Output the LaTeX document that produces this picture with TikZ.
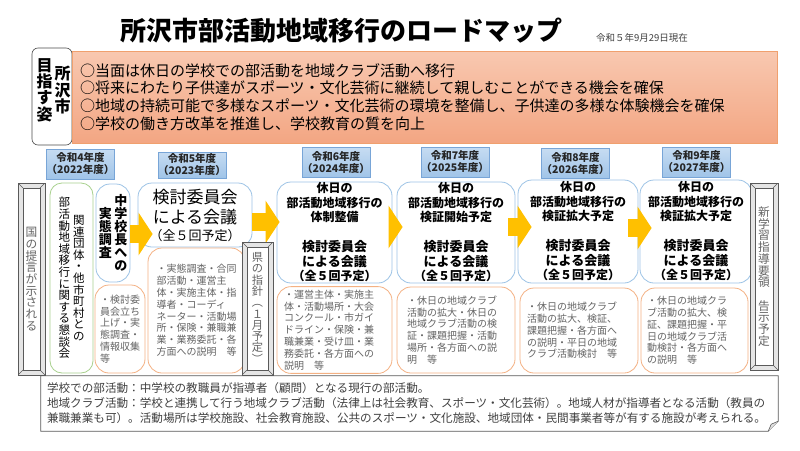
\documentclass[tikz,border=0pt]{standalone}
\usepackage{fontspec}
\setmainfont{Noto Sans CJK JP}
\usetikzlibrary{arrows.meta}

\definecolor{visionTop}{RGB}{248,200,176}
\definecolor{visionBot}{RGB}{243,166,131}
\definecolor{visionLine}{RGB}{240,160,110}
\definecolor{yearTop}{RGB}{198,220,242}
\definecolor{yearBot}{RGB}{160,196,232}
\definecolor{yearLine}{RGB}{120,165,215}
\definecolor{planLine}{RGB}{157,195,230}
\definecolor{taskLine}{RGB}{244,177,131}
\definecolor{meetLine}{RGB}{169,209,142}
\definecolor{goGold}{RGB}{255,192,0}
\definecolor{frameGray}{RGB}{90,90,90}
\definecolor{noteText}{RGB}{64,64,64}
\definecolor{softText}{RGB}{100,100,100}

% vertical (tate) column of characters
\makeatletter
\newcommand\tate[1]{$\vcenter{\lineskiplimit=-100pt\@tfor\tch:=#1\do{\hbox to 1em{\hss\tch\hss}}}$}
\makeatother

\begin{document}
\begin{tikzpicture}[x=1pt,y=-1pt,
    goalbox/.style={draw=black!70, line width=0.6pt, rounded corners=6pt, fill=white},
    vision/.style={draw=visionLine, top color=visionTop, bottom color=visionBot,
      text width=689pt, inner xsep=8pt, align=left, font=\fontsize{15}{17.6}\selectfont},
    year/.style={draw=yearLine, top color=yearTop, bottom color=yearBot, inner sep=0pt,
      text width=68pt, minimum height=30pt, align=center, text=black!85,
      font=\fontsize{10.5}{12}\selectfont\bfseries},
    plan/.style={draw=planLine, line width=0.8pt, rounded corners=14pt, fill=white,
      inner sep=0pt, align=center},
    task/.style={draw=taskLine, line width=0.8pt, rounded corners=14pt, fill=white,
      align=left, text=softText, font=\fontsize{10}{11.8}\selectfont},
    meet/.style={draw=meetLine, line width=0.8pt, rounded corners=12pt, fill=white, inner sep=0pt},
    bevel/.style={draw=frameGray, fill=gray!20, line width=0.7pt, inner sep=0pt, text=softText,
      font=\fontsize{11.7}{11.7}\selectfont,
      path picture={
        \draw[frameGray, fill=white, line width=0.5pt]
          ([shift={(5pt,-5pt)}]path picture bounding box.north west) rectangle
          ([shift={(-5pt,5pt)}]path picture bounding box.south east);
        \draw[frameGray, line width=0.5pt]
          (path picture bounding box.north west) -- ++(5pt,-5pt)
          (path picture bounding box.north east) -- ++(-5pt,-5pt)
          (path picture bounding box.south west) -- ++(5pt,5pt)
          (path picture bounding box.south east) -- ++(-5pt,5pt);
      }},
    goarrow/.style={draw=goGold, line width=18pt, -{Triangle[length=14pt,width=42pt]}},
    note/.style={fill=white, text width=725pt, inner xsep=6pt, minimum height=55pt,
      align=left, text=noteText, font=\fontsize{11.6}{15}\selectfont}
  ]
  \fill[white] (0,0) rectangle (800,450);

  % TITLE
  \node[font=\fontsize{26}{26}\selectfont\bfseries] (title) at (341,31) {所沢市部活動地域移行のロードマップ};
  \node[font=\fontsize{9.5}{10}\selectfont, text=noteText] (date) at (642,37.5) {令和５年9月29日現在};

  % VISION
  \node[goalbox, minimum width=40pt, minimum height=97pt] (goalbox) at (52,96.5) {};
  \node[font=\fontsize{16}{16.4}\selectfont\bfseries] (goal) at (53.5,90) {\tate{目指す姿}\hspace{2pt}\tate{所沢市}};
  \node[vision, minimum height=92pt] (vision) at (424.5,97) {%
    ○当面は休日の学校での部活動を地域クラブ活動へ移行\\
    ○将来にわたり子供達がスポーツ・文化芸術に継続して親しむことができる機会を確保\\
    ○地域の持続可能で多様なスポーツ・文化芸術の環境を整備し、子供達の多様な体験機会を確保\\
    ○学校の働き方改革を推進し、学校教育の質を向上};

  % YEARS
  \node[year] (y22) at (80.5,164) {令和4年度\\（2022年度）};
  \node[year, minimum height=26pt] (y23) at (192,165) {令和5年度\\（2023年度）};
  \node[year] (y24) at (336,162.5) {令和6年度\\（2024年度）};
  \node[year] (y25) at (455,162) {令和7年度\\（2025年度）};
  \node[year] (y26) at (575.5,163.5) {令和8年度\\（2026年度）};
  \node[year] (y27) at (696.5,162) {令和9年度\\（2027年度）};

  % 2022
  \node[meet, minimum width=43pt, minimum height=190pt, font=\fontsize{11.5}{11.6}\selectfont]
    (kon22) at (71.5,278) {\tate{部活動地域移行に関する懇談会}\hspace{3pt}\tate{関連団体・他市町村との}};
  \node[plan, minimum width=34pt, minimum height=98pt, font=\fontsize{13}{13.1}\selectfont\bfseries]
    (chosa22) at (113,233) {\tate{実態調査}\hspace{2.5pt}\tate{中学校長への}};
  \node[task, text width=40pt, inner xsep=5pt, minimum height=88pt] (task22) at (120,329)
    {・検討委\\員会立ち\\上げ・実\\態調査・\\情報収集\\等};

  % 2023
  \node[plan, text width=114pt, minimum height=64pt, font=\fontsize{17}{20}\selectfont] (kaigi23) at (195,215)
    {検討委員会\\による会議\\[-3pt]{\fontsize{13}{20}\selectfont （全５回予定）}};
  \node[task, text width=80pt, inner xsep=8.5pt, minimum height=125pt] (task23) at (196.5,310.5)
    {・実態調査・合同\\部活動・運営主\\体・実施主体・指\\導者・コーディ\\ネーター・活動場\\所・保険・兼職兼\\業・業務委託・各\\方面への説明　等};

  % 2024
  \node[plan, text width=115pt, minimum height=101pt, font=\fontsize{12}{14.5}\selectfont\bfseries] (kaigi24) at (334.5,232.5)
    {休日の\\部活動地域移行の\\体制整備\\[15.5pt]{\fontsize{13}{14.5}\selectfont 検討委員会\\による会議}\\（全５回予定）};
  \node[task, text width=101pt, inner xsep=7pt, minimum height=86pt] (task24) at (334.5,330)
    {・運営主体・実施主\\体・活動場所・大会\\コンクール・市ガイ\\ドライン・保険・兼\\職兼業・受け皿・業\\務委託・各方面への\\説明　等};

  % 2025
  \node[plan, text width=118pt, minimum height=101pt, font=\fontsize{12}{14.5}\selectfont\bfseries] (kaigi25) at (456,232.5)
    {休日の\\部活動地域移行の\\検証開始予定\\[15.5pt]{\fontsize{13}{14.5}\selectfont 検討委員会\\による会議}\\（全５回予定）};
  \node[task, text width=98pt, inner xsep=10pt, minimum height=86pt] (task25) at (456,330)
    {・休日の地域クラブ\\活動の拡大・休日の\\地域クラブ活動の検\\証・課題把握・活動\\場所・各方面への説\\明　等};

  % 2026
  \node[plan, text width=120pt, minimum height=103pt, font=\fontsize{12}{14.5}\selectfont\bfseries] (kaigi26) at (578,231.5)
    {休日の\\部活動地域移行の\\検証拡大予定\\[15.5pt]{\fontsize{13}{14.5}\selectfont 検討委員会\\による会議}\\（全５回予定）};
  \node[task, text width=104pt, inner xsep=7pt, minimum height=85pt] (task26) at (579,330.5)
    {・休日の地域クラブ\\活動の拡大、検証、\\課題把握・各方面へ\\の説明・平日の地域\\クラブ活動検討　等};

  % 2027
  \node[plan, text width=112pt, minimum height=103pt, font=\fontsize{12}{14.5}\selectfont\bfseries] (kaigi27) at (696,231.5)
    {休日の\\部活動地域移行の\\検証拡大予定\\[15.5pt]{\fontsize{13}{14.5}\selectfont 検討委員会\\による会議}\\（全５回予定）};
  \node[task, text width=95pt, inner xsep=6pt, minimum height=85pt] (task27) at (694.5,330.5)
    {・休日の地域クラ\\ブ活動の拡大、検\\証、課題把握・平\\日の地域クラブ活\\動検討・各方面へ\\の説明　等};

  % ARROWS
  \draw[goarrow, shorten >=-15pt] (chosa22.east |- 0,234) -- (kaigi23.west |- 0,234);
  \draw[goarrow, shorten >=-3pt] (kaigi23.east |- 0,222) -- (kaigi24.west |- 0,222);
  \draw[goarrow, shorten <=-4pt, shorten >=-6pt] (kaigi24.east |- 0,227) -- (kaigi25.west |- 0,227);
  \draw[goarrow, shorten <=-7pt, shorten >=-14pt] (kaigi25.east |- 0,227) -- (kaigi26.west |- 0,227);
  \draw[goarrow, shorten <=-10pt, shorten >=-12pt] (kaigi26.east |- 0,228) -- (kaigi27.west |- 0,228);

  % FRAMES
  \node[bevel, minimum width=27pt, minimum height=192pt] (kuni) at (31.5,279) {\tate{国の提言が示される}};
  \node[bevel, minimum width=31pt, minimum height=133pt, font=\fontsize{11.3}{11.3}\selectfont] (ken) at (257.5,308.5)
    {\tate{県の指針{\rotatebox[origin=c]{-90}{（}}１月予定{\rotatebox[origin=c]{-90}{）}}}};
  \node[bevel, minimum width=28pt, minimum height=187pt] (shin) at (764,276.5) {\tate{新学習指導要領　告示予定}};

  % NOTES
  \node[note] (note) at (409.5,403.5) {%
    学校での部活動：中学校の教職員が指導者（顧問）となる現行の部活動。\\
    地域クラブ活動：学校と連携して行う地域クラブ活動（法律上は社会教育、スポーツ・文化芸術）。地域人材が指導者となる活動（教員の\\
    兼職兼業も可）。活動場所は学校施設、社会教育施設、公共のスポーツ・文化施設、地域団体・民間事業者等が有する施設が考えられる。};
  \draw[frameGray, line width=0.8pt] (note.north west) -- (note.north east) -- ([yshift=10pt]note.south east)
    -- ([xshift=-10pt]note.south east) -- (note.south west) -- cycle;
  \draw[frameGray, fill=gray!25, line width=0.6pt] ([xshift=-10pt]note.south east)
    -- ([xshift=-7pt,yshift=7pt]note.south east) -- ([yshift=10pt]note.south east);
\end{tikzpicture}
\end{document}
